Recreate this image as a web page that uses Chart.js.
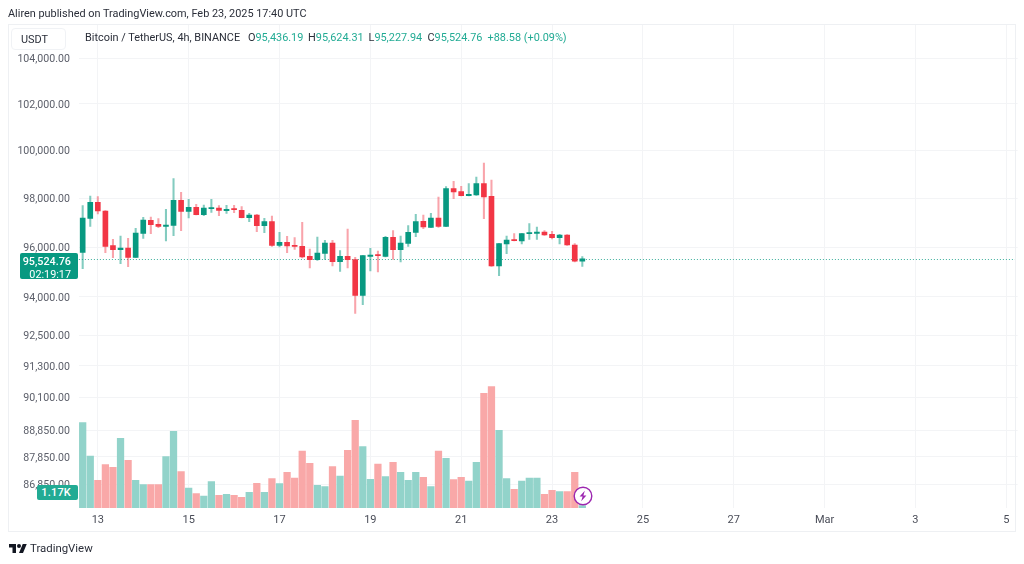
<!DOCTYPE html>
<html><head><meta charset="utf-8">
<script src="https://cdn.jsdelivr.net/npm/chart.js@4"></script>
<style>
html,body{margin:0;padding:0;background:#fff;width:1024px;height:564px;overflow:hidden;font-family:Roboto,sans-serif}
canvas{position:absolute;left:0;top:0}
.t{position:absolute;white-space:pre;line-height:1}
.l{position:absolute;top:33px;white-space:pre;line-height:1;font-size:10.9px;color:#2a2e39}
#frame{position:absolute;left:8px;top:24px;width:1008px;height:508px;border:1px solid #eef0f3;box-sizing:border-box}
#sym{position:absolute;left:11px;top:28px;width:55px;height:22px;border:1px solid #f0f2f5;border-radius:4px;background:#fff;box-sizing:border-box;font-size:10.9px;color:#2a2e39;padding:6px 0 0 9px;line-height:1}
.g{color:#22ab94}
.badge{position:absolute;background:#089981;color:#fff;text-align:right;border-radius:2px;box-sizing:border-box}
</style></head><body>
<canvas id="c" width="1024" height="564"></canvas>
<div id="frame"></div>
<div class="t" style="left:8px;top:9px;font-size:10.9px;color:#2a2e39">Aliren published on TradingView.com, Feb 23, 2025 17:40 UTC</div>
<div id="sym">USDT</div>
<div class="l" style="left:85px">Bitcoin / TetherUS, 4h, BINANCE</div>
<div class="l" style="left:248px">O<span class="g">95,436.19</span></div>
<div class="l" style="left:308px">H<span class="g">95,624.31</span></div>
<div class="l" style="left:368.5px">L<span class="g">95,227.94</span></div>
<div class="l" style="left:427.5px">C<span class="g">95,524.76</span></div>
<div class="l g" style="left:487.5px">+88.58 (+0.09%)</div>
<div class="badge" style="left:19.5px;top:252.5px;width:58.5px;height:26.5px;font-size:10.8px;padding:2px 7px 0 0;line-height:13px"><span style="font-weight:500">95,524.76</span><br>02:19:17</div>
<div class="badge" style="left:37px;top:485px;width:41px;height:15px;font-size:11px;line-height:15px;background:#22ab94;font-weight:500;padding-right:7px;letter-spacing:.2px">1.17K</div>
<svg style="position:absolute;left:573px;top:486px" width="20" height="20" viewBox="0 0 20 20"><circle cx="10" cy="10" r="8.8" fill="#fff" stroke="#9c27b0" stroke-width="1.4"/><path d="M11.8 4.8 6.6 10.6h3l-1.4 4.6 5.2-5.8h-3z" fill="#9c27b0"/></svg>
<svg style="position:absolute;left:9px;top:543px" width="18" height="11" viewBox="0 2 36 22"><path d="M14 22H7V11H0V4h14v18zM28 22h-8l7.5-18h8L28 22z" fill="#131722"/><circle cx="20" cy="8" r="4" fill="#131722"/></svg>
<div class="t" style="left:30px;top:543px;font-size:11.4px;color:#2a2e39">TradingView</div>
<script>
const opens  = [95792,97180,97839,97481,96062,95900,95968,95589,96565,97097,96933,96852,96892,97923,97468,97633,97330,97578,97605,97495,97550,97509,97207,97317,96879,97043,96076,96198,96076,96035,95630,95495,95751,96171,95414,95630,95495,94065,95630,95684,95630,96402,95900,96157,96606,97057,96810,97193,96852,98407,98282,98116,98143,98616,98088,95239,96130,96292,96252,96552,96565,96619,96524,96388,96497,96089,95436.19];
const highs  = [97702,98102,98075,97495,96321,96456,96361,96769,97221,97235,97166,97550,98824,98255,97964,97757,97729,97964,97702,97716,97716,97660,97386,97344,97180,97275,96606,96442,96388,97015,95927,96415,96279,96279,95859,96742,95589,95671,95954,95846,96442,96674,96456,96879,97344,97317,97386,98061,98490,98713,98504,98616,98894,99481,98769,96157,96456,96552,96565,96961,96824,96674,96647,96524,96510,96144,95624.31];
const lows   = [95132,96852,97358,95778,95576,95333,95212,95576,96361,96552,96796,96252,96469,96674,97193,97317,97290,97426,97290,97386,97413,97193,97043,96633,96592,96035,96008,95778,95913,95562,95159,95468,95508,95239,95025,95159,93351,93694,95038,94998,95603,95508,95401,96035,96429,96756,96796,96810,96838,97991,98102,98102,98130,97166,95226,94851,95737,96252,96130,96321,96321,96483,96334,96130,96076,95401,95227.94];
const closes = [97193,97839,97481,96035,95900,95968,95589,96579,97111,96919,96852,96906,97923,97468,97633,97330,97605,97605,97509,97550,97537,97207,97317,96879,97043,96076,96198,96049,96035,95603,95495,95764,96171,95414,95630,95495,94065,95657,95684,95657,96402,95900,96171,96606,97043,96824,97193,96852,98407,98268,98116,98171,98616,98061,95239,96144,96292,96265,96552,96592,96619,96497,96388,96497,96089,95436,95524.76];
const volumesK = [42.7,26.0,13.8,21.7,20.3,34.8,23.8,13.8,11.7,11.7,11.7,25.7,38.3,18.2,10.0,7.2,6.0,13.2,6.3,6.8,6.3,5.3,7.8,12.3,7.8,14.7,12.2,17.8,15.0,28.5,22.3,11.3,10.7,20.7,16.0,28.8,43.8,30.7,14.3,22.0,15.7,22.8,17.8,13.8,17.8,15.3,10.7,28.5,24.8,14.2,15.3,13.5,22.8,57.3,60.7,38.8,14.7,9.3,13.5,15.0,15.0,6.8,8.8,8.2,8.2,17.8,1.17];
const priceTicks = [104000,102000,100000,98000,96000,94000,92500,91300,90100,88850,87850,86850];
const tickDates  = ['02-13','02-15','02-17','02-19','02-21','02-23','02-25','02-27','03-01','03-03','03-05'];
const tickLabels = ['13','15','17','19','21','23','25','27','Mar','3','5'];
const lastClose = closes[closes.length-1];

const categories = [];
for (let i=0;i<124;i++){
  const d = new Date(Date.UTC(2025,1,12,16+4*i));
  const p = n=>String(n).padStart(2,'0');
  categories.push(p(d.getUTCMonth()+1)+'-'+p(d.getUTCDate())+' '+p(d.getUTCHours()));
}
const GREEN='#089981', RED='#f23645';
const up = opens.map((o,i)=>closes[i]>=o);
// bars of the volume pane follow their own colours
const volUp = [1,1,0,0,0,1,0,1,1,0,0,1,1,0,1,0,1,1,0,1,0,0,1,0,1,0,1,0,0,0,0,1,1,0,1,0,0,1,1,0,1,0,1,1,1,0,1,0,1,0,0,1,1,0,0,1,1,0,1,1,1,0,0,1,0,0,1];

const priceLine = { id:'priceLine', beforeDatasetsDraw(ch){
  const y = Math.round(ch.scales.y.getPixelForValue(lastClose))+0.5, a=ch.chartArea, c=ch.ctx;
  c.save(); c.strokeStyle='#3fb09d'; c.lineWidth=1; c.setLineDash([1,2]);
  c.beginPath(); c.moveTo(a.left,y); c.lineTo(1016,y); c.stroke(); c.restore();
}};

new Chart(document.getElementById('c'),{
  type:'bar',
  data:{labels:categories,datasets:[
    {label:'Volume',yAxisID:'yVol',grouped:false,order:3,data:volumesK,barThickness:6.6,
      backgroundColor:volUp.map(u=>u?'#92d3ca':'#f9a8a8')},
    {label:'Wick',yAxisID:'y',grouped:false,order:2,data:lows.map((l,i)=>[l,highs[i]]),barThickness:1.4,
      backgroundColor:up.map(u=>u?'rgba(8,153,129,.5)':'rgba(242,54,69,.45)')},
    {label:'Body',yAxisID:'y',grouped:false,order:1,data:opens.map((o,i)=>[o,closes[i]]),barThickness:5,minBarLength:1,
      backgroundColor:up.map(u=>u?GREEN:RED)}
  ]},
  plugins:[priceLine],
  options:{
    responsive:false,animation:false,
    layout:{padding:{left:8,right:6.4,top:25,bottom:32}},
    plugins:{legend:{display:false},tooltip:{enabled:false}},
    scales:{
      x:{type:'category',offset:true,
        grid:{offset:false,color:'#f3f4f6',drawTicks:false},border:{display:false},
        afterBuildTicks(s){s.ticks=s.ticks.filter(t=>{const l=categories[t.value];return l.endsWith(' 00')&&tickDates.includes(l.slice(0,5));});},
        afterFit(s){s.height=24;},
        ticks:{autoSkip:false,maxRotation:0,padding:6,color:'#4a4d58',font:{family:'Roboto',size:11},
          callback(v){return tickLabels[tickDates.indexOf(categories[v].slice(0,5))];}}},
      y:{type:'logarithmic',position:'left',min:85973,max:105462,
        grid:{color:'#f3f4f6',drawTicks:false},border:{display:false},
        afterBuildTicks(s){s.ticks=priceTicks.map(v=>({value:v}));},
        afterFit(s){s.width=70.9;},
        ticks:{autoSkip:false,padding:9,labelOffset:1,color:'#5d606b',font:{family:'Roboto',size:10.6},
          callback(v){return Number(v).toLocaleString('en-US',{minimumFractionDigits:2,maximumFractionDigits:2});}}},
      yVol:{type:'linear',display:false,min:0,max:241.5}
    }
  }
});
</script>
</body></html>
